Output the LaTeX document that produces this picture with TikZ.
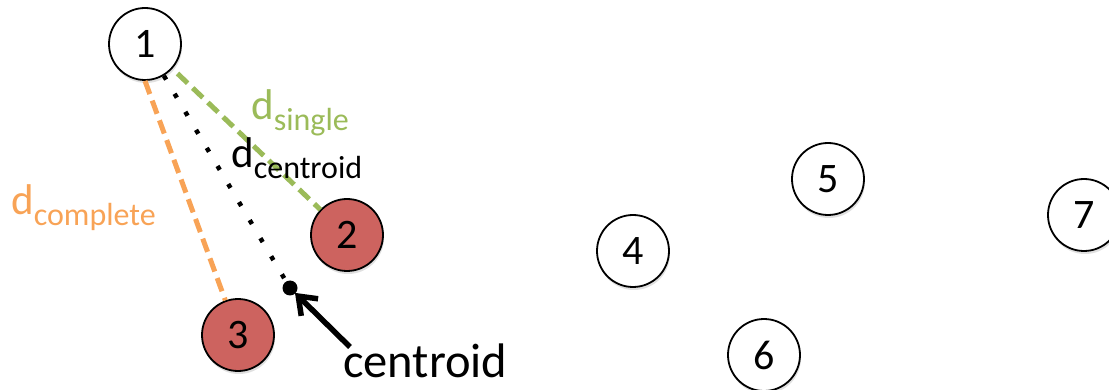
\documentclass[tikz,border=0pt]{standalone}
\usepackage{fontspec}
\setmainfont{Carlito}
\usetikzlibrary{arrows.meta,shadows}
\definecolor{ptred}{RGB}{205,99,95}
\definecolor{lkorange}{RGB}{248,163,86}
\definecolor{lkgreen}{RGB}{155,187,89}
% distance label: large "d" with a lowered subscript word
\newcommand{\dsub}[1]{{\fontsize{43}{43}\selectfont d}{\fontsize{32}{32}\selectfont\raisebox{-11pt}{#1}}}
\begin{document}
\begin{tikzpicture}[x=1pt,y=-1pt,
  pt/.style={circle,draw=black,line width=1.8pt,minimum size=72pt,inner sep=0pt,
    fill=white,font=\fontsize{42}{42}\selectfont,
    drop shadow={opacity=0.12,fill=black,shadow xshift=1pt,shadow yshift=-3pt}},
  member/.style={pt,fill=ptred},
  link/.style={line width=5pt,dash pattern=on 14pt off 7pt},
  dotlink/.style={line width=4.5pt,dash pattern=on 4.5pt off 16.5pt},
  lbl/.style={anchor=base west,inner sep=0pt}]
\useasboundingbox (0,0) rectangle (1109,390);

% points
\node[pt] (n1) at (145,44) {1};
\node[member] (n2) at (347,235) {2};
\node[member] (n3) at (238,335) {3};
\node[pt] (n4) at (633,251) {4};
\node[pt] (n5) at (828,179) {5};
\node[pt] (n6) at (764,355) {6};
\node[pt] (n7) at (1084,215) {7};

% centroid of cluster {2,3}
\coordinate (c) at (290,288);
\fill (c) circle (7.5pt);

% linkage distances
\draw[link,lkorange] (n1.south) -- (n3);
\draw[link,lkgreen,shorten <=7pt] (n1.-42) -- (n2);
\draw[dotlink] (n1) -- (c);

% labels
\node[lbl,lkgreen] (ls) at (251,120) {\dsub{single}};
\node[lbl] (lc) at (231,168) {\dsub{centroid}};
\node[lbl,lkorange] (lo) at (11,215) {\dsub{complete}};

% centroid callout
\node[lbl,font=\fontsize{48.5}{48.5}\selectfont] (ct) at (343,377) {centroid};
\coordinate (astart) at (350,347);
\draw[line width=5.5pt,-{Straight Barb[length=16pt,width=24pt,line width=5.5pt]},shorten >=7pt]
  (astart) -- (c);
\end{tikzpicture}
\end{document}
